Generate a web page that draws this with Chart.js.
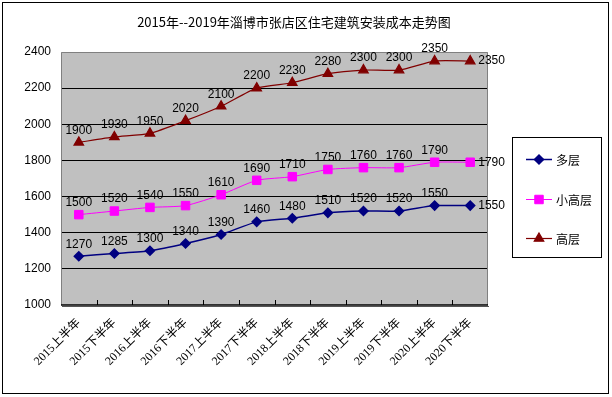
<!DOCTYPE html>
<html>
<head>
<meta charset="utf-8">
<script src="https://cdn.jsdelivr.net/npm/chart.js@4"></script>
<style>
  html, body { margin: 0; padding: 0; background: #fff; }
  #wrap { width: 612px; height: 397px; }
</style>
</head>
<body>
<div id="wrap"><canvas id="grafica" width="612" height="397"></canvas></div>
<script>
const titulo = "2015年--2019年淄博市张店区住宅建筑安装成本走势图";
const periodos = ["2015上半年", "2015下半年", "2016上半年", "2016下半年", "2017上半年", "2017下半年",
  "2018上半年", "2018下半年", "2019上半年", "2019下半年", "2020上半年", "2020下半年"];
const nombres = ["多层", "小高层", "高层"];
const duoceng = [1270, 1285, 1300, 1340, 1390, 1460, 1480, 1510, 1520, 1520, 1550, 1550];
const xiaogao = [1500, 1520, 1540, 1550, 1610, 1690, 1710, 1750, 1760, 1760, 1790, 1790];
const gaoceng = [1900, 1930, 1950, 2020, 2100, 2200, 2230, 2280, 2300, 2300, 2350, 2350];
const yMin = 1000, yMax = 2400, yPaso = 200;

const fuenteNum = '"Liberation Sans", Arial, "Noto Sans CJK SC", sans-serif';
const fuenteSans = '"Noto Sans CJK SC", "Liberation Sans", sans-serif';
const fuenteCjk = '"Liberation Serif", "Noto Sans CJK SC", serif';

// fondo gris, bordes, marcas del eje x
const fondo = {
  id: "fondo",
  beforeDraw(chart) {
    const { ctx, chartArea: a } = chart;
    ctx.save();
    ctx.fillStyle = "#fff";
    ctx.fillRect(0, 0, chart.width, chart.height);
    ctx.strokeStyle = "#000";
    ctx.lineWidth = 1;
    ctx.strokeRect(2.5, 2.5, 606, 391);
    ctx.fillStyle = "#c0c0c0";
    ctx.fillRect(a.left, a.top, a.right - a.left, a.bottom - a.top);
    ctx.fillStyle = "#000";
    ctx.font = "13px " + fuenteSans;
    ctx.textAlign = "center";
    ctx.textBaseline = "middle";
    ctx.fillText(titulo, 294, 22);
    ctx.restore();
  },
  afterDatasetsDraw(chart) {
    const { ctx, chartArea: a, scales } = chart;
    ctx.save();
    ctx.strokeStyle = "#808080";
    ctx.lineWidth = 1;
    ctx.beginPath();
    ctx.moveTo(a.left + 0.5, a.bottom);
    ctx.lineTo(a.left + 0.5, a.top + 0.5);
    ctx.lineTo(a.right - 0.5, a.top + 0.5);
    ctx.lineTo(a.right - 0.5, a.bottom);
    ctx.stroke();
    ctx.strokeStyle = "#000";
    ctx.lineWidth = 1.5;
    ctx.beginPath();
    ctx.moveTo(a.left, a.bottom);
    ctx.lineTo(a.right, a.bottom);
    ctx.stroke();
    ctx.strokeStyle = "#555";
    ctx.lineWidth = 1;
    ctx.beginPath();
    ctx.moveTo(a.left + 1, a.bottom + 1.5);
    ctx.lineTo(a.right + 1, a.bottom + 1.5);
    ctx.stroke();
    ctx.strokeStyle = "#000";
    ctx.beginPath();
    for (let i = 1; i < periodos.length; i++) {
      const x = Math.round((scales.x.getPixelForValue(i - 1) + scales.x.getPixelForValue(i)) / 2) + 0.5;
      ctx.moveTo(x, a.bottom);
      ctx.lineTo(x, a.bottom - 5);
    }
    ctx.stroke();
    ctx.restore();
  }
};

// etiquetas de valores
const etiquetas = {
  id: "etiquetas",
  afterDraw(chart) {
    const { ctx } = chart;
    ctx.save();
    ctx.fillStyle = "#000";
    ctx.font = "12px " + fuenteNum;
    ctx.textBaseline = "middle";
    chart.data.datasets.forEach((ds, i) => {
      const meta = chart.getDatasetMeta(i);
      meta.data.forEach((p, j) => {
        const txt = String(ds.data[j]);
        if (j === ds.data.length - 1) {
          ctx.textAlign = "left";
          ctx.fillText(txt, p.x + 8, p.y);
        } else {
          ctx.textAlign = "center";
          ctx.fillText(txt, p.x, p.y - 12);
        }
      });
    });
    ctx.restore();
  }
};

// leyenda con recuadro
const leyenda = {
  id: "leyenda",
  afterDraw(chart) {
    const { ctx } = chart;
    ctx.save();
    ctx.fillStyle = "#fff";
    ctx.fillRect(512, 137, 89, 120);
    ctx.strokeStyle = "#000";
    ctx.lineWidth = 1;
    ctx.strokeRect(512.5, 137.5, 89, 120);
    const ys = [159, 199, 238];
    chart.data.datasets.forEach((ds, i) => {
      const y = ys[i];
      ctx.strokeStyle = ds.borderColor;
      ctx.lineWidth = ds.borderWidth;
      ctx.beginPath();
      ctx.moveTo(526, y + 0.5);
      ctx.lineTo(552, y + 0.5);
      ctx.stroke();
      ctx.fillStyle = ds.pointBackgroundColor;
      ctx.strokeStyle = ds.pointBorderColor;
      Chart.helpers.drawPoint(ctx, {
        pointStyle: ds.pointStyle, radius: ds.pointRadius, rotation: 0, borderWidth: 1
      }, 539, y + 0.5);
      ctx.fillStyle = "#000";
      ctx.font = "12px " + fuenteSans;
      ctx.textAlign = "left";
      ctx.textBaseline = "middle";
      ctx.fillText(ds.label, 556, y + 1);
    });
    ctx.restore();
  }
};

function serie(label, data, color, estilo, radio, grosor) {
  return {
    label: label,
    data: data,
    borderColor: color,
    backgroundColor: color,
    pointBackgroundColor: color,
    pointBorderColor: color,
    pointStyle: estilo,
    pointRadius: radio,
    pointHoverRadius: radio,
    borderWidth: grosor,
    tension: 0.2,
    fill: false
  };
}

let ctx = document.getElementById("grafica").getContext("2d");
let grafica = new Chart(ctx, {
  type: "line",
  data: {
    labels: periodos,
    datasets: [
      serie(nombres[0], duoceng, "#000080", "rectRot", 4.5, 1.5),
      serie(nombres[1], xiaogao, "#ff00ff", "rect", 6, 1),
      serie(nombres[2], gaoceng, "#800000", "triangle", 5.5, 1.2)
    ]
  },
  options: {
    responsive: false,
    animation: false,
    devicePixelRatio: 1,
    layout: { padding: { left: 0, top: 52, right: 124, bottom: 0 } },
    plugins: {
      legend: { display: false },
      title: { display: false },
      tooltip: { enabled: false }
    },
    scales: {
      x: {
        offset: true,
        afterFit(s) { s.height = 92; },
        grid: { display: false, drawTicks: false },
        border: { display: false },
        ticks: {
          color: "#000",
          font: { family: fuenteCjk, size: 12 },
          minRotation: 45,
          maxRotation: 45,
          padding: 11,
          autoSkip: false
        }
      },
      y: {
        min: yMin,
        max: yMax,
        afterFit(s) { s.width = 61; },
        grid: {
          drawTicks: false,
          color: (c) => (c.tick && (c.tick.value === yMin || c.tick.value === yMax)) ? "rgba(0,0,0,0)" : "#000",
          lineWidth: 1
        },
        border: { display: false },
        ticks: {
          stepSize: yPaso,
          color: "#000",
          padding: 10,
          font: { family: fuenteNum, size: 12 },
          callback: (v) => String(v)
        }
      }
    }
  },
  plugins: [fondo, etiquetas, leyenda]
});
</script>
</body>
</html>
